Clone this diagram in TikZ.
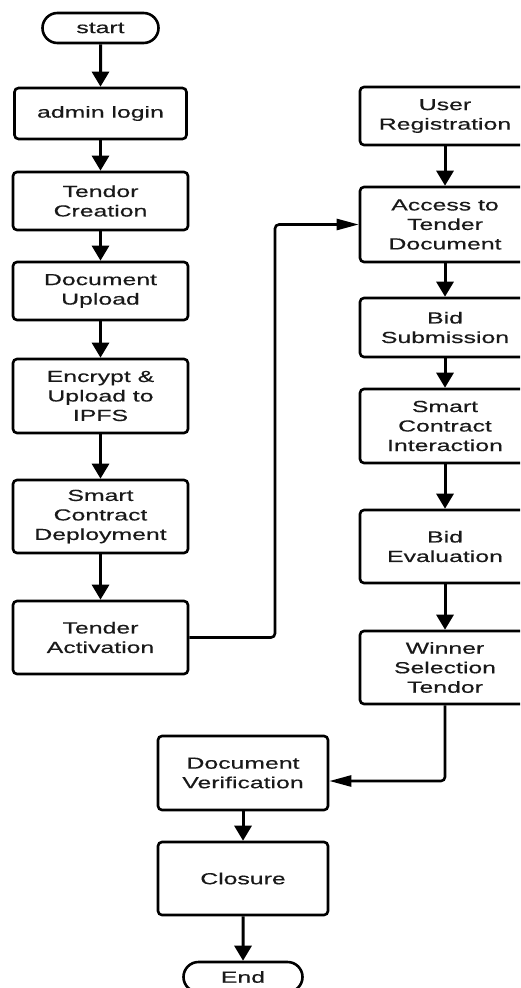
\documentclass[tikz,border=0pt]{standalone}
\usepackage{fontspec}
\setmainfont[FakeStretch=1.55,FakeBold=0.4]{Liberation Sans}
\usetikzlibrary{arrows.meta,shapes.misc}
\begin{document}
\begin{tikzpicture}[x=1pt,y=-1pt,
  box/.style={draw, line width=2.6pt, rounded corners=4pt, align=center,
    font=\fontsize{16}{19.5}\selectfont, inner sep=0pt, text=black!90},
  term/.style={draw, line width=2.6pt, rounded rectangle, align=center,
    font=\fontsize{16}{19.5}\selectfont, inner sep=0pt, text=black!90},
  varrow/.style={line width=3pt, -{Triangle[width=17pt,length=15pt]}},
  harrow/.style={line width=2.6pt, rounded corners=4pt, -{Triangle[width=11pt,length=22pt]}}]
\clip (0,0) rectangle (520,988);
\useasboundingbox (0,0) rectangle (520,988);
\fill[white] (0,0) rectangle (520,988);
% left column
\node[term, minimum width=116pt, minimum height=30pt] (start) at (100.5,28) {start};
\node[box, minimum width=172pt, minimum height=51pt] (admin) at (100.5,113.5) {admin login};
\node[box, minimum width=175pt, minimum height=58pt] (tc) at (100.5,201) {Tendor\\Creation};
\node[box, minimum width=175pt, minimum height=58pt] (du) at (100.5,291) {Document\\Upload};
\node[box, minimum width=175pt, minimum height=74pt] (enc) at (100.5,396) {Encrypt \&\\Upload to\\IPFS};
\node[box, minimum width=175pt, minimum height=73pt] (scd) at (100.5,516.5) {Smart\\Contract\\Deployment};
\node[box, minimum width=175pt, minimum height=73pt] (ta) at (100.5,637.5) {Tender\\Activation};
% right column
\node[box, minimum width=170pt, minimum height=58pt] (ur) at (445,116) {User\\Registration};
\node[box, minimum width=170pt, minimum height=75pt] (acc) at (445,224.5) {Access to\\Tender\\Document};
\node[box, minimum width=170pt, minimum height=59pt] (bs) at (445,327.5) {Bid\\Submission};
\node[box, minimum width=170pt, minimum height=74pt] (sci) at (445,426) {Smart\\Contract\\Interaction};
\node[box, minimum width=170pt, minimum height=73pt] (be) at (445,546.5) {Bid\\Evaluation};
\node[box, minimum width=170pt, minimum height=73pt] (ws) at (445,667.5) {Winner\\Selection\\Tendor};
% bottom
\node[box, minimum width=170pt, minimum height=74pt] (dv) at (243,773) {Document\\Verification};
\node[box, minimum width=170pt, minimum height=73pt] (cl) at (243,878.5) {Closure};
\node[term, minimum width=119pt, minimum height=30pt] (end) at (243,977) {End};
% vertical arrows
\draw[varrow] (start) -- (admin);
\draw[varrow] (admin) -- (tc);
\draw[varrow] (tc) -- (du);
\draw[varrow] (du) -- (enc);
\draw[varrow] (enc) -- (scd);
\draw[varrow] (scd) -- (ta);
\draw[varrow] (ur) -- (acc);
\draw[varrow] (acc) -- (bs);
\draw[varrow] (bs) -- (sci);
\draw[varrow] (sci) -- (be);
\draw[varrow] (be) -- (ws);
\draw[varrow] (dv) -- (cl);
\draw[varrow] (cl) -- (end);
% elbow connectors
\coordinate (k1) at (275,0);
\coordinate (k2) at (0,781);
\draw[harrow] (ta.east) -- (ta.east -| k1) -- (acc.west -| k1) -- (acc.west);
\draw[harrow] (ws.south) -- (ws.south |- k2) -- (dv.east |- k2);
\end{tikzpicture}
\end{document}
